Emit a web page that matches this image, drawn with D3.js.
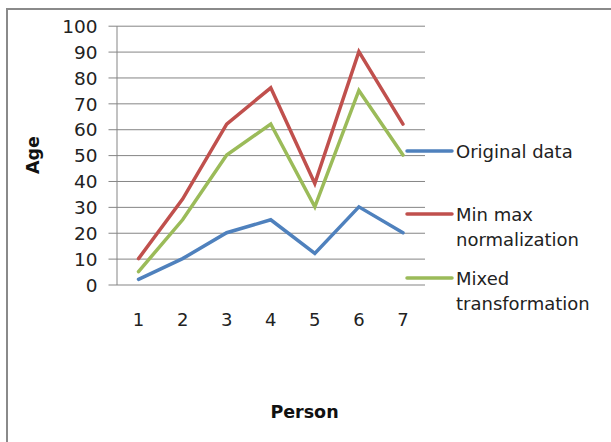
<!DOCTYPE html>
<html>
<head>
<meta charset="utf-8">
<script src="https://cdn.jsdelivr.net/npm/d3@7/dist/d3.min.js"></script>
<style>
  html, body { margin: 0; padding: 0; background: #fff; }
  svg { display: block; }
</style>
</head>
<body>
<svg id="chart" width="611" height="442"></svg>
<script>
// Ages per person under three treatments
const persons = ["1", "2", "3", "4", "5", "6", "7"];
const originalData = [2, 10, 20, 25, 12, 30, 20];
const minMaxNormalization = [10, 33, 62, 76, 39, 90, 62];
const mixedTransformation = [5, 25, 50, 62, 30, 75, 50];
const yTicks = [0, 10, 20, 30, 40, 50, 60, 70, 80, 90, 100];
const seriesNames = ["Original data", "Min max\nnormalization", "Mixed\ntransformation"];
const seriesColors = ["#4F81BD", "#C0504D", "#9BBB59"];

const series = [originalData, minMaxNormalization, mixedTransformation].map((values, i) => ({
  name: seriesNames[i],
  color: seriesColors[i],
  values
}));

const svg = d3.select("#chart");
const font = "DejaVu Sans, Verdana, sans-serif";

// Outer chart frame (runs off the right and bottom edges)
svg.append("path")
  .attr("d", "M7,446 L7,9 L615,9")
  .attr("fill", "none")
  .attr("stroke", "#8a8a8a")
  .attr("stroke-width", 2);

const plot = { left: 116.5, right: 425, top: 25.7, bottom: 284.5 };

const x = d3.scaleBand()
  .domain(persons)
  .range([plot.left, plot.right]);

const y = d3.scaleLinear()
  .domain([0, 100])
  .range([plot.bottom, plot.top]);

// Horizontal gridlines with short outside ticks
const yAxis = d3.axisLeft(y)
  .tickValues(yTicks)
  .tickSize(-(plot.right - plot.left))
  .tickSizeOuter(0)
  .tickFormat(d3.format("d"));

const gy = svg.append("g")
  .attr("transform", `translate(${plot.left},0)`)
  .call(yAxis);
gy.select(".domain").attr("stroke", "#858585").attr("stroke-width", 1);
gy.selectAll(".tick line")
  .attr("stroke", "#858585")
  .attr("x1", -8);
gy.selectAll(".tick text")
  .attr("x", -19)
  .attr("dy", "0.36em")
  .attr("font-family", font)
  .attr("font-size", 18.5)
  .attr("fill", "#222");

// Category labels under the plot
const xAxis = d3.axisBottom(x).tickSize(0).tickPadding(0);
const gx = svg.append("g")
  .attr("transform", `translate(0,${plot.bottom})`)
  .call(xAxis);
gx.select(".domain").remove();
gx.selectAll(".tick text")
  .attr("y", 41)
  .attr("dy", 0)
  .attr("font-family", font)
  .attr("font-size", 18)
  .attr("fill", "#222");

// Axis titles
svg.append("text")
  .attr("transform", "translate(38.5,155) rotate(-90)")
  .attr("text-anchor", "middle")
  .attr("font-family", font)
  .attr("font-weight", "bold")
  .attr("font-size", 17.5)
  .attr("fill", "#111")
  .text("Age");

svg.append("text")
  .attr("x", 304.5)
  .attr("y", 417.5)
  .attr("text-anchor", "middle")
  .attr("font-family", font)
  .attr("font-weight", "bold")
  .attr("font-size", 17.5)
  .attr("fill", "#111")
  .text("Person");

// Series lines
const line = d3.line()
  .x((d, i) => x(persons[i]) + x.bandwidth() / 2)
  .y(d => y(d));

svg.append("g")
  .selectAll("path")
  .data(series)
  .join("path")
  .attr("d", d => line(d.values))
  .attr("fill", "none")
  .attr("stroke", d => d.color)
  .attr("stroke-width", 3.5)
  .attr("stroke-linejoin", "miter")
  .attr("stroke-linecap", "round");

// Legend
const legendY = [151, 214, 278];
const legend = svg.append("g");
series.forEach((s, i) => {
  const g = legend.append("g").attr("transform", `translate(0,${legendY[i]})`);
  g.append("line")
    .attr("x1", 407).attr("x2", 452)
    .attr("y1", 0).attr("y2", 0)
    .attr("stroke", s.color)
    .attr("stroke-width", 3.5)
    .attr("stroke-linecap", "round");
  const t = g.append("text")
    .attr("x", 456)
    .attr("y", 7)
    .attr("font-family", font)
    .attr("font-size", 18)
    .attr("fill", "#222");
  s.name.split("\n").forEach((part, k) => {
    t.append("tspan")
      .attr("x", 456)
      .attr("dy", k === 0 ? 0 : 25)
      .text(part);
  });
});
</script>
</body>
</html>
